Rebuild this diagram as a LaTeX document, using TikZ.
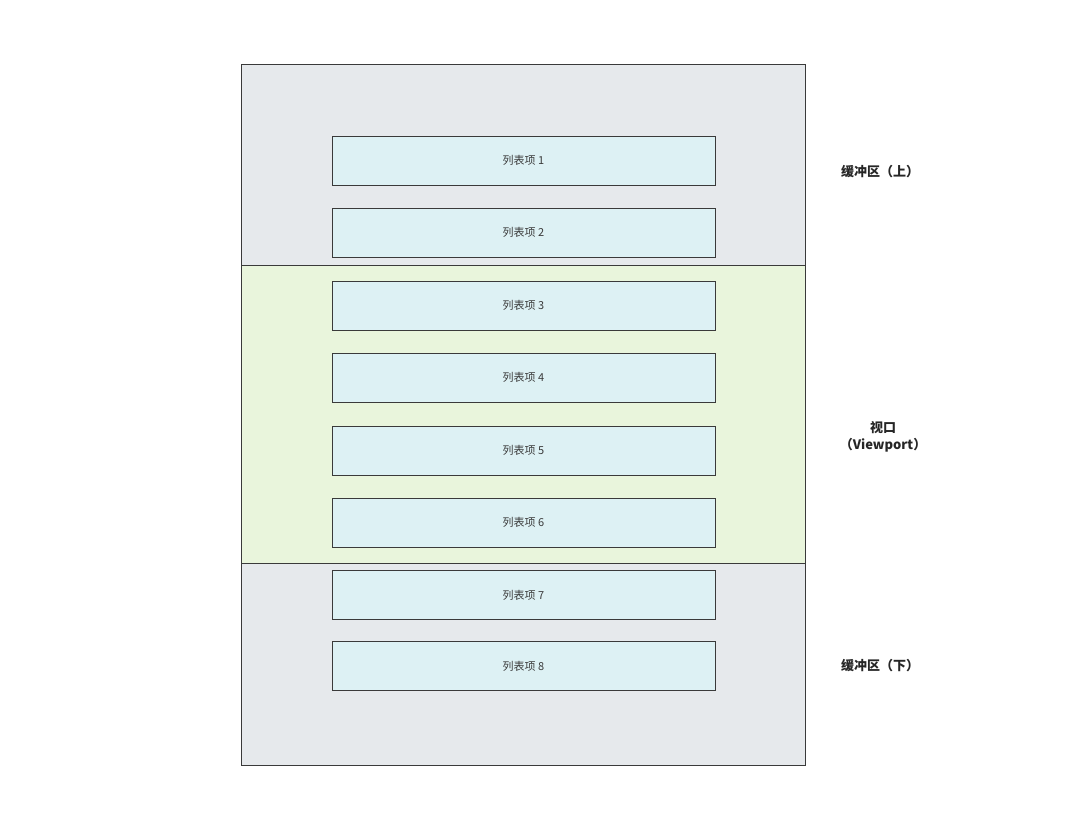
\documentclass[tikz,border=0pt]{standalone}
\usepackage{fontspec}
\setmainfont{Noto Sans CJK SC}
\usetikzlibrary{positioning}
\definecolor{bufgray}{HTML}{E6E9EC}
\definecolor{viewgreen}{HTML}{E9F5DC}
\definecolor{itemblue}{HTML}{DDF1F4}
\definecolor{edgegray}{HTML}{3A3A3A}
\tikzset{
  item/.style={draw=edgegray, fill=itemblue, line width=1pt, minimum width=383pt,
               minimum height=49pt, inner sep=0pt, font=\fontsize{11}{13}\selectfont, text=edgegray},
  side/.style={font=\bfseries\fontsize{13}{17}\selectfont, text=black!85, align=center}
}
\begin{document}
\begin{tikzpicture}[x=1pt,y=-1pt]
\useasboundingbox (0,0) rectangle (1080,835);
% regions
\draw[draw=edgegray, fill=bufgray, line width=1pt] (241,64) rectangle (805,765);
\draw[draw=edgegray, fill=viewgreen, line width=1pt] (241,265) rectangle (805,563);
% list items
\foreach \n/\y in {1/160.5, 2/232.5, 3/305.5, 4/377.5, 5/450.5, 6/522.5, 7/595, 8/666}
  \node[item] (item\n) at (523.5,\y) {列表项 \n};
% labels
\node[side] (buftop) at (880,172) {缓冲区（上）};
\node[side] (view) at (883,437) {视口\\（Viewport）};
\node[side] (bufbot) at (880,666) {缓冲区（下）};
\end{tikzpicture}
\end{document}
